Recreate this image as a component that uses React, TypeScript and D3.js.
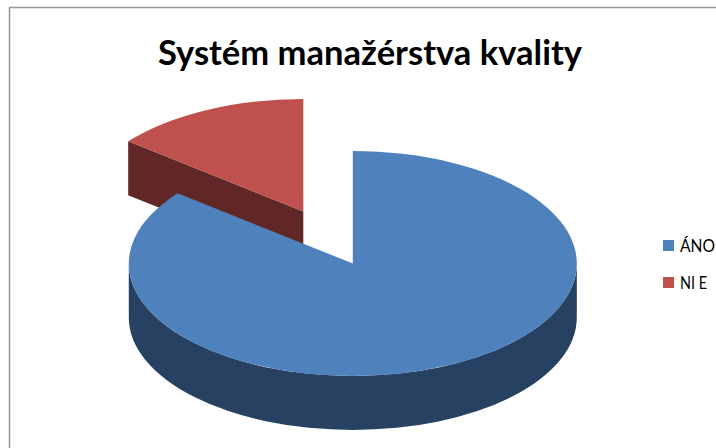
import React from "react";
import * as d3 from "d3";

const categories = ["ÁNO", "NIE"];
const legendLabels = ["ÁNO", "NI E"];
const values = [6, 1];
const colors = ["#4F81BD", "#C0504D"];
const wallColors = ["#264161", "#602726"];
const title = "Systém manažérstva kvality";

const W = 716, H = 448;
const cx = 352.8, cy = 263.5, rx = 224, ry = 112.5, depth = 54;
const explode = { dx: -49.5, dy: -52 };
const font = "Lato, 'Open Sans', sans-serif";

const pieGen = d3.pie<number>().sort(null).startAngle(0).endAngle(2 * Math.PI);
const arcs = pieGen(values);
const px = (a: number) => Math.sin(a) * rx;
const py = (a: number) => -Math.cos(a) * ry;

function sector(a0: number, a1: number) {
  const large = a1 - a0 > Math.PI ? 1 : 0;
  return `M0 0L${px(a0)} ${py(a0)}A${rx} ${ry} 0 ${large} 1 ${px(a1)} ${py(a1)}Z`;
}

// Visible outer wall of the part of a sector which faces the viewer.
function outerWall(a0: number, a1: number) {
  const s = Math.max(a0, Math.PI / 2), e = Math.min(a1, (3 * Math.PI) / 2);
  if (e <= s) return "";
  return (
    `M${px(s)} ${py(s)}A${rx} ${ry} 0 0 1 ${px(e)} ${py(e)}` +
    `L${px(e)} ${py(e) + depth}A${rx} ${ry} 0 0 0 ${px(s)} ${py(s) + depth}Z`
  );
}

// Cut face running from the apex to the outer point at angle a.
function cutFace(a: number) {
  return (
    d3.line()([
      [0, 0],
      [px(a), py(a)],
      [px(a), py(a) + depth],
      [0, depth],
    ]) + "Z"
  );
}

const legendY = [246, 283];

export default function App() {
  const [blue, red] = arcs;
  return (
    <svg
      width={W}
      height={H}
      viewBox={`0 0 ${W} ${H}`}
      style={{ position: "absolute", left: 0, top: 0, background: "#fff", display: "block" }}
    >
      <path d={`M9.5 ${H}V7.5H${W}`} fill="none" stroke="#979797" strokeWidth={1.5} />
      <text
        x={370}
        y={65}
        textAnchor="middle"
        fontFamily={font}
        fontWeight={700}
        fontSize={33.5}
        fill="#000"
        textLength={424}
        lengthAdjust="spacingAndGlyphs"
      >
        {title}
      </text>

      <g transform={`translate(${cx + explode.dx},${cy + explode.dy})`}>
        <path d={cutFace(red.startAngle)} fill={wallColors[1]} />
        <path d={sector(red.startAngle, red.endAngle)} fill={colors[1]} />
      </g>
      <g transform={`translate(${cx},${cy})`}>
        <path d={outerWall(blue.startAngle, blue.endAngle)} fill={wallColors[0]} />
        <path d={sector(blue.startAngle, blue.endAngle)} fill={colors[0]} />
      </g>

      {categories.map((c, i) => (
        <g key={c}>
          <rect x={663} y={legendY[i] - 6} width={11} height={11} fill={colors[i]} />
          <text x={680} y={legendY[i] + 6} fontFamily={font} fontSize={16.5} fill="#000" textLength={i === 0 ? 35 : 27} lengthAdjust="spacingAndGlyphs">
            {legendLabels[i]}
          </text>
        </g>
      ))}
    </svg>
  );
}
